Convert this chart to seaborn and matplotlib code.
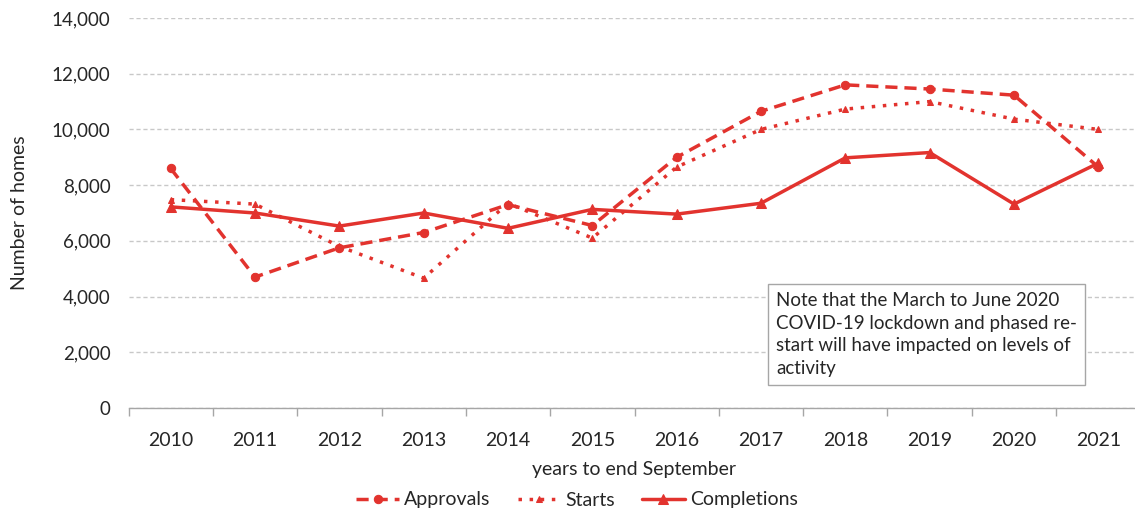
import numpy as np
import pandas as pd
import matplotlib
matplotlib.use("Agg")
import matplotlib.pyplot as plt
import seaborn as sns
from matplotlib.ticker import FuncFormatter, FixedLocator

years = ["2010", "2011", "2012", "2013", "2014", "2015", "2016", "2017", "2018", "2019", "2020", "2021"]
approvals = [8600, 4700, 5750, 6300, 7300, 6550, 9000, 10650, 11600, 11450, 11230, 8650]
starts = [7480, 7320, 5800, 4660, 7350, 6100, 8650, 10000, 10730, 11000, 10370, 10000]
completions = [7220, 7000, 6530, 7000, 6450, 7130, 6960, 7350, 8980, 9170, 7320, 8790]
series_names = ["Approvals", "Starts", "Completions"]

sns.set_theme(style="white")
plt.rcParams['font.family'] = ['Lato', 'DejaVu Sans']

RED = "#E2332E"
TXT = "#262626"

df = pd.DataFrame({"year": years * 3,
                   "value": approvals + starts + completions,
                   "series": sum([[s] * len(years) for s in series_names], [])})
df["x"] = df["year"].map({y: i for i, y in enumerate(years)})

fig = plt.figure(figsize=(11.35, 5.13), dpi=100)
ax = fig.add_axes([128.5 / 1135, 1 - 408 / 513, 1012 / 1135, 390 / 513])

styles = {
    "Approvals": dict(linestyle=(0, (3.5, 2)), marker="o", markersize=6, linewidth=2.5),
    "Starts": dict(linestyle=(0, (1, 2.2)), marker="^", markersize=5, linewidth=2.5),
    "Completions": dict(linestyle="-", marker="^", markersize=7, linewidth=2.5),
}
for s in series_names:
    sub = df[df["series"] == s]
    sns.lineplot(data=sub, x="x", y="value", ax=ax, color=RED, label=s,
                 markeredgecolor=RED, markerfacecolor=RED, **styles[s])

ax.set_xlim(-0.5, len(years) - 0.5)
ax.set_ylim(0, 14000)
ax.set_yticks(np.arange(0, 14001, 2000))
ax.yaxis.set_major_formatter(FuncFormatter(lambda v, p: f"{int(v):,}"))
ax.set_xticks(range(len(years)))
ax.set_xticklabels(years)
ax.xaxis.set_minor_locator(FixedLocator(np.arange(-0.5, len(years), 1.0)))
ax.tick_params(axis="x", which="major", length=0, pad=17, labelsize=14, labelcolor=TXT)
ax.tick_params(axis="x", which="minor", length=6, width=1, color="#A6A6A6", direction="out", bottom=True)
ax.tick_params(axis="y", length=0, pad=13, labelsize=13.5, labelcolor=TXT)

ax.grid(axis="y", color="#C8C8C8", linestyle=(0, (3, 2)), linewidth=1)
ax.grid(axis="x", visible=False)
ax.set_axisbelow(True)
for sp in ["top", "right", "left"]:
    ax.spines[sp].set_visible(False)
ax.spines["bottom"].set_color("#A6A6A6")
ax.spines["bottom"].set_linewidth(1)

ax.set_xlabel("years to end September", fontsize=14, color=TXT, labelpad=9)
ax.set_ylabel("Number of homes", fontsize=14, color=TXT, labelpad=17)

leg = ax.legend(loc="center", bbox_to_anchor=(577 / 1135, 1 - 500 / 513), bbox_transform=fig.transFigure,
                ncol=3, frameon=False, fontsize=14, handlelength=2.2, columnspacing=1.4, handletextpad=0.25)
for t in leg.get_texts():
    t.set_color(TXT)

note = ("Note that the March to June 2020\nCOVID-19 lockdown and phased re-\n"
        "start will have impacted on levels of\nactivity")
ax.text(776 / 1135, 1 - 292 / 513, note, transform=fig.transFigure, fontsize=13.5,
        color=TXT, va="top", ha="left", linespacing=1.4,
        bbox=dict(boxstyle="square,pad=0.45", facecolor="white", edgecolor="#A6A6A6", linewidth=1))

fig.savefig("out.png", dpi=100)
